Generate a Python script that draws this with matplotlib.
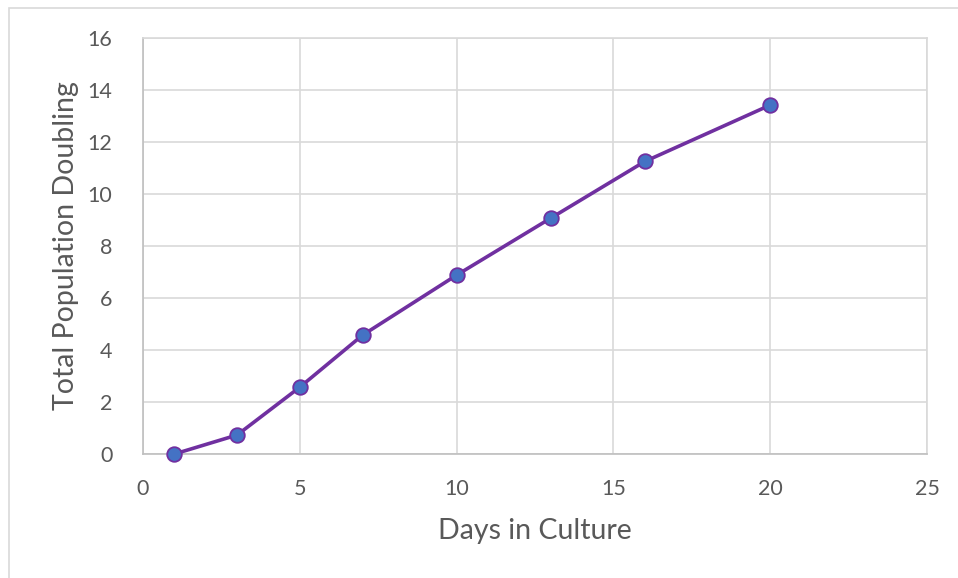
import matplotlib
matplotlib.use("Agg")
import matplotlib.pyplot as plt
from matplotlib.patches import Rectangle

days = [1, 3, 5, 7, 10, 13, 16, 20]
doubling = [0.0, 0.73, 2.57, 4.57, 6.88, 9.07, 11.25, 13.42]
xticks = [0, 5, 10, 15, 20, 25]
yticks = [0, 2, 4, 6, 8, 10, 12, 14, 16]

plt.rcParams['font.family'] = ['Lato', 'DejaVu Sans']

fig = plt.figure(figsize=(9.58, 5.78), dpi=100)
fig.patch.set_facecolor('white')
fig.patches.append(Rectangle((9/958, -0.1), 1.2, 1 - 8/578 + 0.1,
                             transform=fig.transFigure, fill=False,
                             edgecolor='#d9d9d9', linewidth=1.2, zorder=0))

ax = fig.add_axes([143/958, 124/578, 784/958, 416/578])
ax.plot(days, doubling, color='#7030A0', linewidth=2.6, marker='o',
        markersize=10.5, markerfacecolor='#4472C4', markeredgecolor='#7030A0',
        markeredgewidth=1.3, zorder=3, clip_on=False)

ax.set_xlim(0, 25)
ax.set_ylim(0, 16)
ax.set_xticks(xticks)
ax.set_yticks(yticks)
ax.grid(True, color='#d9d9d9', linewidth=1.2)
ax.set_axisbelow(True)
for s in ax.spines.values():
    s.set_color('#d9d9d9')
    s.set_linewidth(1.2)
ax.spines['left'].set_color('#bfbfbf')
ax.spines['bottom'].set_color('#bfbfbf')
ax.tick_params(length=0, labelsize=15.5, colors='#595959')
ax.tick_params(axis='x', pad=18)
ax.tick_params(axis='y', pad=22)
ax.set_xlabel('Days in Culture', fontsize=20.5, color='#595959', labelpad=14)
ax.set_ylabel('Total Population Doubling', fontsize=20.5, color='#595959', labelpad=6)

fig.savefig('out.png', dpi=100)
